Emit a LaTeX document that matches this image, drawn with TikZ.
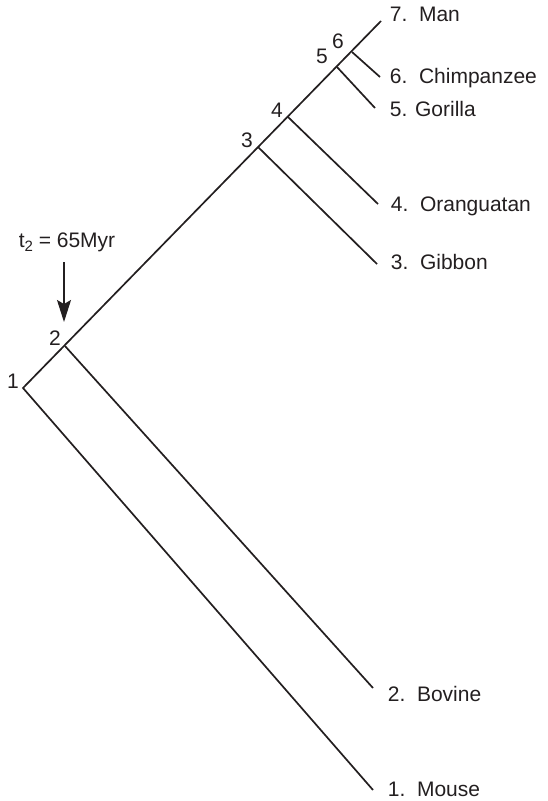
\documentclass[tikz,border=0pt]{standalone}
\usepackage{fontspec}
\setmainfont{Liberation Sans}
\usetikzlibrary{arrows.meta}
\definecolor{ink}{HTML}{231F20}
\begin{document}
\begin{tikzpicture}[x=1pt,y=-1pt,line width=1.7pt,color=ink,
  lbl/.style={anchor=base west,inner sep=0pt,font=\fontsize{21}{25}\selectfont},
  num/.style={anchor=base,inner sep=0pt,font=\fontsize{21}{25}\selectfont},
  branch/.style={line width=1.7pt,line cap=butt}]
\useasboundingbox (0,0) rectangle (547,801);
% internal nodes
\coordinate (n1) at (23,388);
\coordinate (n2) at (65,346);
\coordinate (n3) at (258,147);
\coordinate (n4) at (288,117);
\coordinate (n5) at (337,67);
\coordinate (n6) at (352,52);
% leaf ends
\coordinate (e7) at (381,21);
\coordinate (e6) at (380,77);
\coordinate (e5) at (375,108);
\coordinate (e4) at (378,204);
\coordinate (e3) at (377,264);
\coordinate (e2) at (373,688);
\coordinate (e1) at (373,790);
% branches
\draw[branch] (e1) -- (n1) -- (e7);
\draw[branch] (n2) -- (e2);
\draw[branch] (n3) -- (e3);
\draw[branch] (n4) -- (e4);
\draw[branch] (n5) -- (e5);
\draw[branch] (n6) -- (e6);
% leaf labels
\node[lbl] (l7) at (389,21) {7.\ \ Man};
\node[lbl] (l6) at (389,83) {6.\ \ Chimpanzee};
\node[lbl] (l5) at (389,116) {5. Gorilla};
\node[lbl] (l4) at (390,211) {4.\ \ Oranguatan};
\node[lbl] (l3) at (390,269) {3.\ \ Gibbon};
\node[lbl] (l2) at (387,701) {2.\ \ Bovine};
\node[lbl] (l1) at (387,796) {1.\ \ Mouse};
% node numbers
\node[num] (k1) at (13,388) {1};
\node[num] (k2) at (55,345) {2};
\node[num] (k3) at (247,147) {3};
\node[num] (k4) at (277,117) {4};
\node[num] (k5) at (322,63) {5};
\node[num] (k6) at (338,48) {6};
% time marker
\node[num] (t2) at (67,247) {t\raisebox{-0.45ex}{\fontsize{15}{15}\selectfont 2} = 65Myr};
\coordinate (a0) at (64,262);
\coordinate (a1) at (64,322);
\draw[line width=1.3pt,-{Stealth[length=22pt,width=14pt,inset=4pt]}] (a0) -- (a1);
\end{tikzpicture}
\end{document}
